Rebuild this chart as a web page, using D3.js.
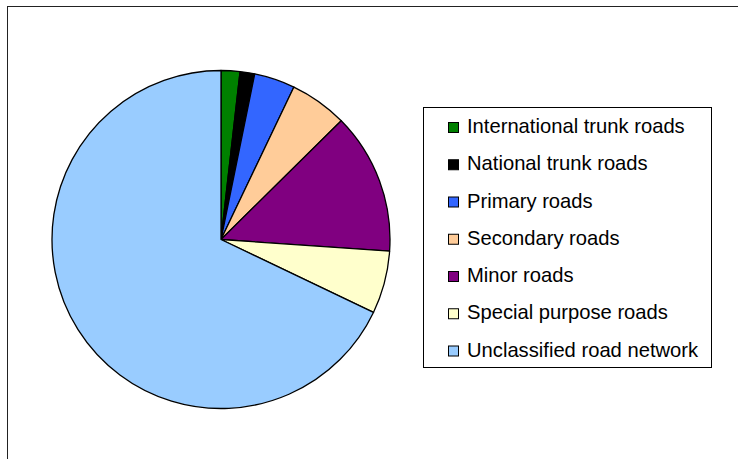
<!DOCTYPE html>
<html>
<head>
<meta charset="utf-8">
<script src="https://cdn.jsdelivr.net/npm/d3@7"></script>
<style>
  html, body { margin: 0; padding: 0; background: #fff; }
  svg { display: block; }
</style>
</head>
<body>
<svg id="chart" width="738" height="459"></svg>
<script>
// Share of the road network by class (%)
const categories = [
  "International trunk roads",
  "National trunk roads",
  "Primary roads",
  "Secondary roads",
  "Minor roads",
  "Special purpose roads",
  "Unclassified road network"
];
const shares = [1.8, 1.4, 3.9, 5.5, 13.5, 6.0, 67.9];
const colours = ["#008000", "#000000", "#3366FF", "#FFCC99", "#800080", "#FFFFCC", "#99CCFF"];

const svg = d3.select("#chart");

// chart area frame (runs off the right and bottom edges)
svg.append("rect")
  .attr("x", 7.5).attr("y", 6.5)
  .attr("width", 760).attr("height", 480)
  .attr("fill", "#fff")
  .attr("stroke", "#222").attr("stroke-width", 1);

const data = categories.map((c, i) => ({ name: c, value: shares[i], colour: colours[i] }));

const cx = 221, cy = 239.5, r = 169;

const pie = d3.pie().value(d => d.value).sort(null);
const arc = d3.arc().innerRadius(0).outerRadius(r);

svg.append("g")
  .attr("transform", `translate(${cx},${cy})`)
  .selectAll("path")
  .data(pie(data))
  .join("path")
  .attr("d", arc)
  .attr("fill", d => d.data.colour)
  .attr("stroke", "#000")
  .attr("stroke-width", 1.3)
  .attr("stroke-linejoin", "round");

// legend
const lx = 423.5, ly = 107.5, lw = 288, lh = 260;
const legend = svg.append("g");
legend.append("rect")
  .attr("x", lx).attr("y", ly)
  .attr("width", lw).attr("height", lh)
  .attr("fill", "#fff").attr("stroke", "#000").attr("stroke-width", 1);

const rowY = d3.scalePoint().domain(categories).range([127.5, 351]);

const items = legend.selectAll("g.item")
  .data(data)
  .join("g")
  .attr("class", "item")
  .attr("transform", d => `translate(0,${rowY(d.name)})`);

items.append("rect")
  .attr("x", 448.5).attr("y", -5)
  .attr("width", 10).attr("height", 10)
  .attr("fill", d => d.colour)
  .attr("stroke", "#000").attr("stroke-width", 1);

items.append("text")
  .attr("x", 467).attr("y", 5.5)
  .attr("font-family", "Liberation Sans, Arial, sans-serif")
  .attr("font-size", 20.2)
  .attr("fill", "#000")
  .text(d => d.name);
</script>
</body>
</html>
